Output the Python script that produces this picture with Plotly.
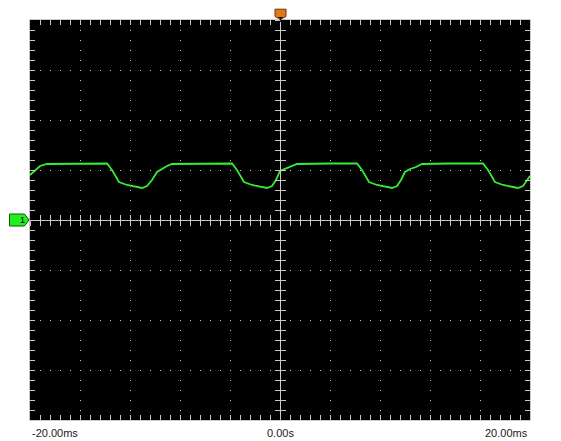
import plotly.graph_objects as go

time_ms = [-20.0, -19.6, -19.2, -18.64, -16.0, -13.84, -13.44, -12.88, -12.24, -11.44, -11.04,
           -10.64, -10.24, -9.84, -9.44, -9.04, -8.64, -6.4, -3.84, -3.44, -2.88, -2.24, -1.44,
           -1.04, -0.64, -0.32, 0.0, 0.4, 0.88, 1.36, 4.0, 6.16, 6.56, 7.12, 7.76, 8.56, 8.96,
           9.36, 9.68, 10.0, 10.4, 10.88, 11.36, 13.6, 16.24, 16.64, 17.2, 17.84, 18.64, 19.04,
           19.44, 19.76, 20.0]
volts = [0.90, 1.00, 1.08, 1.12, 1.13, 1.13, 1.00, 0.76, 0.70, 0.66, 0.64,
         0.68, 0.80, 0.96, 1.02, 1.08, 1.12, 1.13, 1.13, 1.00, 0.76, 0.70, 0.66,
         0.64, 0.68, 0.80, 0.98, 1.02, 1.06, 1.12, 1.13, 1.13, 1.00, 0.76, 0.70, 0.66, 0.64,
         0.68, 0.80, 0.96, 1.02, 1.06, 1.12, 1.13, 1.13, 1.00, 0.76, 0.70, 0.66, 0.64,
         0.68, 0.80, 0.88]

x_labels = ["-20.00ms", "0.00s", "20.00ms"]
x_label_pos = [-20, 0, 20]

X_RANGE = [-20, 20]
Y_RANGE = [-4, 4]
FRAME = "#c8c8c8"
GRID = "#c8c8c8"

fig = go.Figure()
fig.add_trace(go.Scatter(x=time_ms, y=volts, mode="lines",
                         line=dict(color="#33ee33", width=1.8),
                         hoverinfo="skip", showlegend=False))

common = dict(showticklabels=False, ticks="inside", ticklen=5, tickcolor=FRAME,
              showline=True, linecolor=FRAME, linewidth=1, mirror="ticks",
              showgrid=True, gridcolor=GRID, gridwidth=1, griddash="1px,9px",
              zeroline=False, fixedrange=True)

fig.update_xaxes(range=X_RANGE, dtick=4, tick0=-20,
                 minor=dict(dtick=0.8, ticks="inside", ticklen=5, tickcolor=FRAME, showgrid=False),
                 **common)
fig.update_yaxes(range=Y_RANGE, dtick=1, tick0=-4,
                 minor=dict(dtick=0.2, ticks="inside", ticklen=5, tickcolor=FRAME, showgrid=False),
                 **common)

center = dict(showticklabels=False, showline=True, linecolor=FRAME, linewidth=1,
              showgrid=False, zeroline=False, fixedrange=True, anchor="free", position=0.5)
fig.update_layout(
    xaxis2=dict(overlaying="x", range=X_RANGE, tick0=-20, dtick=0.8, ticks="outside",
                ticklen=5, tickcolor=FRAME, **center),
    xaxis3=dict(overlaying="x", range=X_RANGE, tick0=-20, dtick=0.8, ticks="inside",
                ticklen=5, tickcolor=FRAME, **center),
    yaxis2=dict(overlaying="y", range=Y_RANGE, tick0=-4, dtick=0.2, ticks="outside",
                ticklen=5, tickcolor=FRAME, **center),
    yaxis3=dict(overlaying="y", range=Y_RANGE, tick0=-4, dtick=0.2, ticks="inside",
                ticklen=5, tickcolor=FRAME, **center),
)
for xa, ya in [("x2", "y"), ("x3", "y"), ("x", "y2"), ("x", "y3")]:
    fig.add_trace(go.Scatter(x=[None], y=[None], xaxis=xa, yaxis=ya, showlegend=False,
                             hoverinfo="skip"))

anchors = ["left", "center", "right"]
for lab, pos, anc in zip(x_labels, x_label_pos, anchors):
    fig.add_annotation(x=pos, y=-0.012, xref="x", yref="paper", text=lab, showarrow=False,
                       xanchor=anc, yanchor="top",
                       font=dict(family="Liberation Sans", size=11, color="#202020"))

# trigger marker (top, orange)
fig.add_shape(type="path", xref="x", yref="paper",
              path="M -0.4 1.027 L 0.48 1.027 L 0.48 1.009 L 0.04 1.0015 L -0.4 1.009 Z",
              fillcolor="#e07818", line=dict(color="#703000", width=1))
fig.add_annotation(x=0.04, y=1.018, xref="x", yref="paper", text="<b>T</b>", showarrow=False,
                   font=dict(family="Liberation Sans", size=8, color="#000000"))

# channel 1 ground marker (left, green)
fig.add_shape(type="path", xref="paper", yref="y",
              path="M -0.041 0.12 L -0.011 0.12 L -0.002 0.0 L -0.011 -0.12 L -0.041 -0.12 Z",
              fillcolor="#22ee22", line=dict(color="#006000", width=1))
fig.add_annotation(x=-0.024, y=0.0, xref="paper", yref="y", text="1", showarrow=False,
                   font=dict(family="Liberation Sans", size=9, color="#000000"))

fig.update_layout(width=545, height=433, margin=dict(l=22, r=23, t=12, b=21),
                  paper_bgcolor="white", plot_bgcolor="black", showlegend=False)

fig.write_html("out.html")
